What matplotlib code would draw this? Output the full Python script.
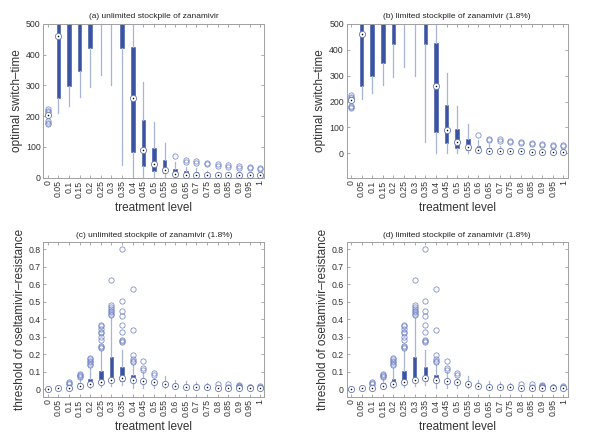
import numpy as np
import matplotlib
matplotlib.use('Agg')
from matplotlib import pyplot as plt

plt.rcParams['font.family'] = ['Liberation Sans', 'DejaVu Sans']

levels = ['0', '0.05', '0.1', '0.15', '0.2', '0.25', '0.3', '0.35', '0.4', '0.45', '0.5',
          '0.55', '0.6', '0.65', '0.7', '0.75', '0.8', '0.85', '0.9', '0.95', '1']

#   optimal switch-time (panels a and b look the same)
switch_q1 = [205, 260, 297, 348, 422, 560, 560, 422, 83, 38, 22, 14, 16, 12, 11, 10, 9, 8, 7, 7, 7]
switch_med = [205, 460, 530, 540, 550, 600, 600, 560, 260, 91, 44, 24, 11, 10, 10, 10, 10, 7, 7, 7, 7]
switch_q3 = [205, 560, 580, 590, 600, 620, 620, 600, 425, 188, 95, 57, 29, 22, 18, 13, 12, 10, 9, 9, 9]
switch_lo = [205, 210, 232, 263, 295, 335, 300, 42, 3, 0, 0, 0, 3, 3, 3, 3, 3, 3, 3, 3, 3]
switch_hi = [205, 650, 650, 650, 650, 650, 650, 650, 650, 312, 182, 113, 50, 35, 30, 20, 18, 15, 14, 13, 13]
switch_out = [[174, 179, 184, 212, 218, 224], [], [], [], [], [], [], [], [], [], [], [],
              [72], [51, 56], [49, 54], [43, 47], [38, 43], [36, 40], [32, 37], [30, 34], [27, 31]]

#   threshold of oseltamivir-resistance (panels c and d look the same)
thr_q1 = [0, 0.005, 0.01, 0.015, 0.028, 0.04, 0.04, 0.05, 0.045, 0.04, 0.035, 0.025, 0.018,
          0.013, 0.01, 0.008, 0.006, 0.004, 0.004, 0.004, 0.004]
thr_med = [0, 0.005, 0.01, 0.02, 0.03, 0.042, 0.055, 0.065, 0.055, 0.048, 0.04, 0.03, 0.022,
           0.016, 0.013, 0.011, 0.008, 0.006, 0.006, 0.006, 0.006]
thr_q3 = [0, 0.005, 0.012, 0.035, 0.06, 0.105, 0.185, 0.13, 0.08, 0.055, 0.045, 0.035, 0.028,
          0.02, 0.017, 0.014, 0.011, 0.009, 0.008, 0.008, 0.008]
thr_lo = [0, 0.005, 0.005, 0.005, 0.01, 0.015, 0.02, 0.025, 0.005, 0.005, 0.01, 0.01, 0.005,
          0.005, 0.003, 0.003, 0.002, 0.001, 0.001, 0.001, 0.001]
thr_hi = [0, 0.005, 0.02, 0.06, 0.12, 0.22, 0.41, 0.225, 0.14, 0.1, 0.065, 0.075, 0.055,
          0.05, 0.04, 0.035, 0.02, 0.015, 0.015, 0.012, 0.012]
thr_out = [[], [], [0.03, 0.038, 0.042], [0.068, 0.075, 0.08, 0.085],
           [0.14, 0.145, 0.155, 0.16, 0.175, 0.18],
           [0.235, 0.24, 0.25, 0.28, 0.3, 0.32, 0.33, 0.345, 0.36, 0.365],
           [0.425, 0.43, 0.44, 0.45, 0.46, 0.47, 0.48, 0.625],
           [0.27, 0.275, 0.28, 0.33, 0.37, 0.42, 0.45, 0.505, 0.8],
           [0.155, 0.16, 0.175, 0.195, 0.34, 0.575], [0.11, 0.12, 0.16], [0.08, 0.095],
           [], [], [], [], [], [0.03], [0.012, 0.028], [0.015, 0.02, 0.022, 0.025],
           [0.012, 0.015], [0.012, 0.02]]

titles = ['(a) unlimited stockpile of zanamivir',
          '(b) limited stockpile of zanamivir (1.8%)',
          '(c) unlimited stockpile of zanamivir (1.8%)',
          '(d) limited stockpile of zanamivir (1.8%)']

BOX = '#3a54a3'
WHISK = '#a8b5d8'
FLIER = '#7587c8'
TXT = '#333333'


def draw(ax, q1, med, q3, lo, hi, out):
    pos = np.arange(len(levels))
    stats = []
    for i in range(len(levels)):
        stats.append(dict(q1=q1[i], med=med[i], q3=q3[i], whislo=lo[i], whishi=hi[i],
                          fliers=out[i]))
    ax.bxp(stats, positions=pos, widths=0.34, patch_artist=True, showcaps=False,
           boxprops=dict(facecolor=BOX, edgecolor=BOX, linewidth=0.4),
           whiskerprops=dict(color=WHISK, linewidth=0.9),
           medianprops=dict(visible=False),
           flierprops=dict(marker='o', markerfacecolor='none', markeredgecolor=FLIER,
                           markersize=3.8, markeredgewidth=0.55))
    ax.scatter(pos, med, s=20, facecolor='white', edgecolor='#6677b8', linewidths=0.6, zorder=4)
    ax.scatter(pos, med, s=1.2, color='black', linewidths=0, zorder=5)
    ax.set_xticks(pos)
    ax.set_xticklabels(levels, rotation=90, fontsize=6.3, color=TXT)
    ax.set_xlim(-0.4, 20.4)
    ax.set_xlabel('treatment level', fontsize=8.5, labelpad=3, color=TXT)
    for s in ax.spines.values():
        s.set_color('#a0a0a0')
        s.set_linewidth(0.7)
    ax.tick_params(direction='in', length=2.5, width=0.5, color='#888888',
                   top=True, right=True, labelsize=6.3, pad=2, labelcolor=TXT)


fig = plt.figure(figsize=(5.9, 4.43), dpi=100)
rects = [[0.0737, 0.599, 0.3746, 0.347], [0.5876, 0.599, 0.3746, 0.347],
         [0.0737, 0.1045, 0.3746, 0.3485], [0.5876, 0.1045, 0.3746, 0.3485]]
axes = [fig.add_axes(r) for r in rects]

for k in range(2):
    ax = axes[k]
    draw(ax, switch_q1, switch_med, switch_q3, switch_lo, switch_hi, switch_out)
    ax.set_yticks([0, 100, 200, 300, 400, 500])
    ax.set_ylabel('optimal switch\u2013time', fontsize=8.5, labelpad=2, color=TXT)
axes[0].set_ylim(0, 500)
axes[1].set_ylim(-94, 500)

thr_ticks = [0, 0.1, 0.2, 0.3, 0.4, 0.5, 0.6, 0.7, 0.8]
thr_labels = ['0', '0.1', '0.2', '0.3', '0.4', '0.5', '0.6', '0.7', '0.8']
for k in range(2, 4):
    ax = axes[k]
    draw(ax, thr_q1, thr_med, thr_q3, thr_lo, thr_hi, thr_out)
    ax.set_yticks(thr_ticks)
    ax.set_yticklabels(thr_labels)
    ax.set_ylim(-0.042, 0.84)
    ax.set_ylabel('threshold of oseltamivir\u2013resistance', fontsize=8.5, labelpad=2, color=TXT)

for ax, t in zip(axes, titles):
    ax.set_title(t, fontsize=6, pad=4, color='#222222')

fig.savefig('out.png', dpi=100)
